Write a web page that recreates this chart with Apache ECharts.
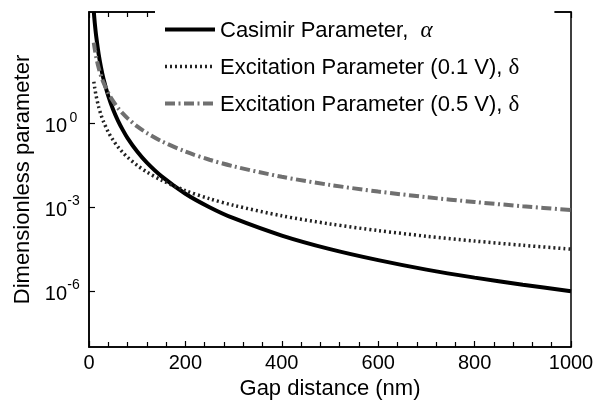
<!DOCTYPE html>
<html>
<head>
<meta charset="utf-8">
<style>html,body{margin:0;padding:0;background:#fff}#c{width:605px;height:401px}</style>
<script src="https://cdn.jsdelivr.net/npm/echarts@6/dist/echarts.min.js"></script>
</head>
<body>
<div id="c"></div>
<script>
const distance = [10, 12, 15, 20, 25, 30, 40, 50, 60, 70, 80, 100, 120, 150, 200, 250, 300, 400, 500, 600, 700, 800, 900, 1000];
const casimirAlpha = [1.0e4, 4.0e3, 1.32e3, 312, 102, 41, 9.8, 3.2, 1.29, 0.60, 0.305, 0.1, 0.040, 0.0132, 3.1e-3, 1.02e-3, 4.1e-4, 9.8e-5, 3.2e-5, 1.29e-5, 5.9e-6, 3.05e-6, 1.7e-6, 1.0e-6];
const excitation01 = [32, 18.5, 9.5, 4.0, 2.05, 1.19, 0.50, 0.256, 0.148, 0.093, 0.0625, 0.032, 0.0185, 0.0095, 0.0040, 0.00205, 0.00119, 5.0e-4, 2.56e-4, 1.48e-4, 9.3e-5, 6.25e-5, 4.4e-5, 3.2e-5];
const excitation05 = [800, 463, 237, 100, 51, 29.6, 12.5, 6.4, 3.7, 2.33, 1.56, 0.80, 0.463, 0.237, 0.100, 0.051, 0.0296, 0.0125, 0.0064, 0.0037, 0.00233, 0.00156, 0.0011, 8.0e-4];
const yTickValues = [1e-6, 1e-3, 1];
const seriesNames = ['Casimir Parameter, α', 'Excitation Parameter (0.1 V), δ', 'Excitation Parameter (0.5 V), δ'];

const FONT = 'Liberation Sans, Arial, sans-serif';
const pairs = vals => distance.map((d, i) => [d, vals[i]]);
const styles = [
  {color: '#000', width: 4, type: 'solid'},
  {color: '#222', width: 3.5, type: [2, 3]},
  {color: '#707070', width: 4, type: [10, 3.5, 2, 3.5]}
];

const chart = echarts.init(document.getElementById('c'), null, {renderer: 'canvas'});
const xAxisCommon = {
  type: 'value', min: 0, max: 1000, interval: 200,
  axisLine: {show: true, onZero: false, lineStyle: {color: '#000', width: 1.5}},
  axisTick: {show: true, inside: true, length: 6, lineStyle: {color: '#000', width: 1.2}},
  minorTick: {show: true, splitNumber: 5, length: 5, lineStyle: {color: '#000', width: 1.2}},
  splitLine: {show: false}, minorSplitLine: {show: false}
};
chart.setOption({
  animation: false,
  backgroundColor: '#fff',
  grid: {left: 89, right: 34, top: 12, bottom: 54, show: true, borderColor: '#000', borderWidth: 1.5,
         outerBoundsMode: 'none', containLabel: false},
  xAxis: [
    Object.assign({}, xAxisCommon, {
      position: 'bottom',
      axisLabel: {fontSize: 20, color: '#000', fontFamily: FONT, margin: 6, formatter: v => String(v)},
      name: 'Gap distance (nm)', nameLocation: 'middle', nameGap: 30,
      nameTextStyle: {fontSize: 22, color: '#000', fontFamily: FONT}
    }),
    Object.assign({}, xAxisCommon, {position: 'top', axisLabel: {show: false}})
  ],
  yAxis: [{
    type: 'log', logBase: 10, min: 1e-8, max: 1e4,
    axisLine: {show: true, onZero: false, lineStyle: {color: '#000', width: 1.5}},
    axisTick: {show: true, inside: true, length: 6, customValues: yTickValues, lineStyle: {color: '#000', width: 1.2}},
    minorTick: {show: false}, splitLine: {show: false},
    axisLabel: {
      customValues: yTickValues, margin: 9, color: '#000',
      formatter: v => '{b|10}{s|' + Math.round(Math.log10(v)) + '}',
      rich: {
        b: {fontSize: 20, fontFamily: FONT, color: '#000', padding: [6, 0, 0, 0]},
        s: {fontSize: 14, fontFamily: FONT, color: '#000', width: 13, align: 'left', verticalAlign: 'top', padding: [0, 0, 10, 0]}
      }
    },
    name: 'Dimensionless parameter', nameLocation: 'middle', nameGap: 44,
    nameTextStyle: {fontSize: 22, color: '#000', fontFamily: FONT}
  }],
  legend: {
    orient: 'vertical', left: 155, top: 0,
    padding: [16, 35, 8, 8], itemGap: 10, itemWidth: 50, itemHeight: 14,
    backgroundColor: '#fff', borderWidth: 0,
    itemStyle: {opacity: 0, borderWidth: 0},
    data: seriesNames.map((n, i) => ({name: n, lineStyle: {color: styles[i].color, width: styles[i].width, type: styles[i].type}})),
    formatter: name => {
      if (name === seriesNames[0]) return 'Casimir Parameter,  {a|α}';
      if (name === seriesNames[1]) return 'Excitation Parameter (0.1 V), {d|δ}';
      return 'Excitation Parameter (0.5 V), {d|δ}';
    },
    textStyle: {
      fontSize: 22, fontFamily: FONT, color: '#000', lineHeight: 24, padding: [3, 0, 0, 0],
      rich: {
        a: {fontSize: 23, lineHeight: 24, fontFamily: 'Liberation Serif, serif', fontStyle: 'italic', color: '#000'},
        d: {fontSize: 23, lineHeight: 24, fontFamily: 'Liberation Serif, serif', color: '#000'}
      }
    }
  },
  series: seriesNames.map((n, i) => ({
    name: n, type: 'line', data: pairs([casimirAlpha, excitation01, excitation05][i]),
    symbol: 'none', smooth: 0.3,
    lineStyle: {color: styles[i].color, width: styles[i].width, type: styles[i].type},
    itemStyle: {color: styles[i].color}
  }))
});
</script>
</body>
</html>
